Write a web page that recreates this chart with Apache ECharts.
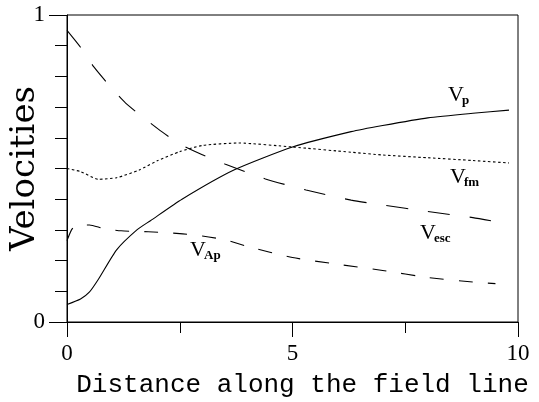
<!DOCTYPE html>
<html>
<head>
<meta charset="utf-8">
<script src="https://cdn.jsdelivr.net/npm/echarts@6/dist/echarts.min.js"></script>
<style>
  html, body { margin: 0; padding: 0; background: #fff; }
  #main { width: 539px; height: 402px; }
</style>
</head>
<body>
<div id="main"></div>
<script>
// velocities, distance along field line on x
var vpX = [0, 0.3, 0.5, 0.7, 1.1, 1.55, 1.85, 2.55, 3.7, 5, 6.3, 7, 8, 9, 9.8];
var vpY = [0.057, 0.075, 0.098, 0.14, 0.235, 0.3, 0.33, 0.4, 0.495, 0.57, 0.62, 0.64, 0.665, 0.68, 0.69];

var vfmX = [0, 0.3, 0.7, 1.1, 1.6, 2.0, 2.5, 3.0, 3.8, 5, 6.3, 7, 8, 9, 9.8];
var vfmY = [0.5, 0.49, 0.465, 0.47, 0.495, 0.525, 0.555, 0.575, 0.583, 0.57, 0.553, 0.544, 0.535, 0.526, 0.518];

var vescX = [0, 0.3, 0.6, 1.0, 1.3, 1.7, 2.1, 2.5, 3.0, 3.5, 4.4, 5.3, 6.3, 7, 8, 9, 9.4];
var vescY = [0.95, 0.895, 0.83, 0.76, 0.713, 0.665, 0.62, 0.58, 0.545, 0.515, 0.466, 0.43, 0.397, 0.381, 0.36, 0.34, 0.33];

var vapX = [0, 0.1, 0.2, 0.5, 0.8, 1.2, 1.8, 2.5, 3.0, 3.5, 4.0, 5.0, 6.0, 7.0, 8.0, 9.0, 9.5];
var vapY = [0.265, 0.3, 0.315, 0.316, 0.305, 0.297, 0.294, 0.288, 0.28, 0.268, 0.246, 0.21, 0.188, 0.168, 0.145, 0.13, 0.125];

var xTickLabels = ['0', '5', '10'];
var yTickLabels = ['0', '1'];

function pairs(xs, ys) {
  var out = [];
  for (var i = 0; i < xs.length; i++) {
    out.push([xs[i], ys[i]]);
  }
  return out;
}

var serif = 'Liberation Serif';

function lineSeries(xs, ys, dash) {
  return {
    type: 'line',
    data: pairs(xs, ys),
    smooth: 0.2,
    showSymbol: false,
    lineStyle: { color: '#000', width: 1.1, type: dash },
    z: 5
  };
}

var chart = echarts.init(document.getElementById('main'));

var option = {
  backgroundColor: '#fff',
  animation: false,
  grid: {
    left: 67, top: 15, right: 21, bottom: 80,
    outerBoundsMode: 'none',
    containLabel: false,
    show: true, borderColor: '#000', borderWidth: 1
  },
  xAxis: [{
    type: 'value', min: 0, max: 10, interval: 2.5,
    axisLine: { show: true, lineStyle: { color: '#000' } },
    axisTick: { show: true, length: 11, lineStyle: { color: '#000' } },
    splitLine: { show: false },
    axisLabel: {
      color: '#000', fontFamily: serif, fontSize: 23, margin: 20,
      formatter: function (v) {
        return xTickLabels.indexOf(String(v)) >= 0 ? String(v) : '';
      }
    },
    name: 'Distance along the field line',
    nameLocation: 'middle',
    nameGap: 50,
    nameMoveOverlap: false,
    nameTextStyle: { color: '#000', fontFamily: 'Liberation Mono', fontSize: 26, padding: [0, 0, 0, 20] }
  }, {
    type: 'value', min: 0, max: 10, interval: 5, position: 'bottom',
    axisLine: { show: false },
    axisTick: { show: true, length: 15, lineStyle: { color: '#000' } },
    axisLabel: { show: false },
    splitLine: { show: false }
  }],
  yAxis: [{
    type: 'value', min: 0, max: 1, interval: 0.1,
    axisLine: { show: true, lineStyle: { color: '#000' } },
    axisTick: { show: true, length: 12, lineStyle: { color: '#000' } },
    splitLine: { show: false },
    axisLabel: {
      color: '#000', fontFamily: serif, fontSize: 23, margin: 22,
      formatter: function (v) {
        return yTickLabels.indexOf(String(v)) >= 0 ? String(v) : '';
      }
    },
    name: 'Velocities',
    nameLocation: 'middle',
    nameRotate: 90,
    nameGap: 25,
    nameMoveOverlap: false,
    nameTextStyle: { color: '#000', fontFamily: 'DejaVu Serif', fontSize: 34 }
  }, {
    type: 'value', min: 0, max: 1, interval: 1, position: 'left',
    axisLine: { show: false },
    axisTick: { show: true, length: 18, lineStyle: { color: '#000' } },
    axisLabel: { show: false },
    splitLine: { show: false }
  }],
  series: [
    lineSeries(vpX, vpY, 'solid'),
    lineSeries(vfmX, vfmY, [2.5, 2.5]),
    lineSeries(vescX, vescY, [22, 20]),
    lineSeries(vapX, vapY, [14, 15])
  ],
  graphic: []
};

// curve labels: V with a bold subscript
var curveLabels = [
  { x: 448, y: 84, sub: 'p' },
  { x: 450, y: 166, sub: 'fm' },
  { x: 420, y: 222, sub: 'esc' },
  { x: 190, y: 239, sub: 'Ap' }
];
curveLabels.forEach(function (l) {
  option.graphic.push({
    type: 'text', left: l.x, top: l.y, z: 10,
    style: { text: 'V', fontFamily: serif, fontSize: 22, fill: '#000' }
  });
  option.graphic.push({
    type: 'text', left: l.x + 14, top: l.y + 10, z: 10,
    style: { text: l.sub, fontFamily: serif, fontSize: 13, fontWeight: 'bold', fill: '#000' }
  });
});

chart.setOption(option);
</script>
</body>
</html>
